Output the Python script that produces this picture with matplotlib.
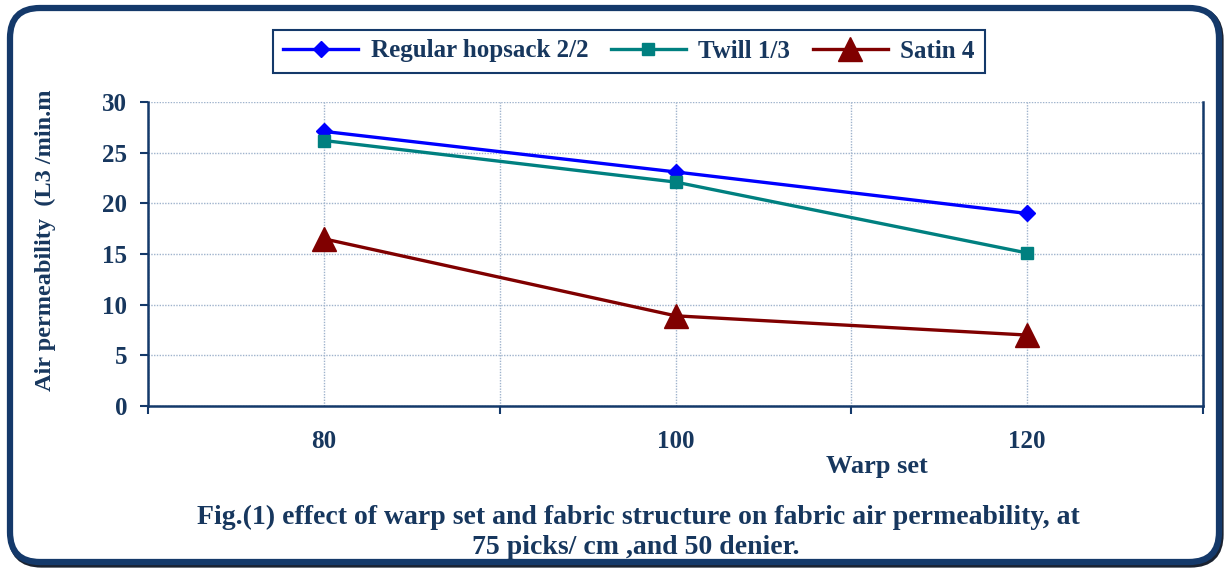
import matplotlib
matplotlib.use("Agg")
import matplotlib.pyplot as plt
from matplotlib.patches import FancyBboxPatch

categories = ["80", "100", "120"]
hopsack = [27.1, 23.1, 19.0]
twill = [26.2, 22.1, 15.1]
satin = [16.5, 8.9, 7.0]
series_names = ["Regular hopsack 2/2", "Twill 1/3", "Satin 4"]
y_ticks = [0, 5, 10, 15, 20, 25, 30]

NAVY = "#14396A"
TEXT = "#17375E"
GRID = "#9FB3CC"
FONT = "Liberation Serif"

W, H = 1226, 569
fig = plt.figure(figsize=(W / 100, H / 100), dpi=100)

# background frame
bg = fig.add_axes([0, 0, 1, 1], zorder=-5)
bg.set_xlim(0, W)
bg.set_ylim(H, 0)
bg.axis("off")
shadow = FancyBboxPatch((11.5, 9.5), 1209, 555, boxstyle="round,pad=0,rounding_size=30",
                        fc="none", ec="#1A2230", lw=4.5)
bg.add_patch(shadow)
frame = FancyBboxPatch((10, 8), 1209, 554, boxstyle="round,pad=0,rounding_size=30",
                       fc="white", ec=NAVY, lw=4.5)
bg.add_patch(frame)

ax = fig.add_axes([148 / W, 1 - 406 / H, (1203 - 148) / W, (406 - 102) / H])
x = list(range(len(categories)))
ax.plot(x, hopsack, color="#0000FF", lw=2.4, marker="D", ms=8.5, label=series_names[0], zorder=4)
ax.plot(x, twill, color="#008080", lw=2.4, marker="s", ms=8.5, label=series_names[1], zorder=4)
ax.plot(x, satin, color="#800000", lw=2.4, marker="^", ms=17, label=series_names[2], zorder=4)

ax.set_xlim(-0.5, len(categories) - 0.5)
ax.set_ylim(0, 30)
ax.set_yticks(y_ticks)
ax.set_xticks([i - 0.5 for i in range(len(categories) + 1)])
ax.set_xticklabels([])
ax.set_xticks(x, minor=True)
ax.set_xticklabels(categories, minor=True)
ax.tick_params(axis="x", which="minor", length=0, pad=17)
ax.tick_params(axis="x", which="major", length=6, width=1.5, color=NAVY, direction="out")
ax.tick_params(axis="y", length=6, width=1.5, color=NAVY, direction="out", pad=9)
for lab in ax.get_xticklabels(minor=True) + ax.get_yticklabels():
    lab.set_fontfamily(FONT)
    lab.set_fontweight("bold")
    lab.set_fontsize(18)
    lab.set_color(TEXT)

ax.grid(True, which="both", axis="x", color=GRID, ls=(0, (1, 1)), lw=1)
ax.grid(True, which="major", axis="y", color=GRID, ls=(0, (1, 1)), lw=1)
ax.set_axisbelow(True)
ax.spines["top"].set_visible(False)
for s in ["left", "bottom", "right"]:
    ax.spines[s].set_color(NAVY)
    ax.spines[s].set_linewidth(1.8)

fig.text(45 / W, 1 - 240 / H, "Air permeability  (L3 /min.m", rotation=90,
         ha="center", va="center", fontfamily=FONT, fontweight="bold",
         fontsize=17.5, color=TEXT)
fig.text(877 / W, 1 - 466 / H, "Warp set", ha="center", va="center",
         fontfamily=FONT, fontweight="bold", fontsize=19, color=TEXT)
fig.text(638 / W, 1 - 517 / H,
         "Fig.(1) effect of warp set and fabric structure on fabric air permeability, at",
         ha="center", va="center", fontfamily=FONT, fontweight="bold",
         fontsize=20, color=TEXT)
fig.text(636 / W, 1 - 548 / H, "75 picks/ cm ,and 50 denier.",
         ha="center", va="center", fontfamily=FONT, fontweight="bold",
         fontsize=20, color=TEXT)

leg = fig.legend(loc="center", bbox_to_anchor=(629 / W, 1 - 51 / H), ncol=3,
                 frameon=True, fancybox=False, edgecolor=NAVY, framealpha=1,
                 prop={"family": FONT, "weight": "bold", "size": 18},
                 handlelength=3, columnspacing=0.9, handletextpad=0.5,
                 borderpad=0.4)
leg.get_frame().set_linewidth(1.5)
for t in leg.get_texts():
    t.set_color(TEXT)

fig.savefig("out.png", dpi=100)
